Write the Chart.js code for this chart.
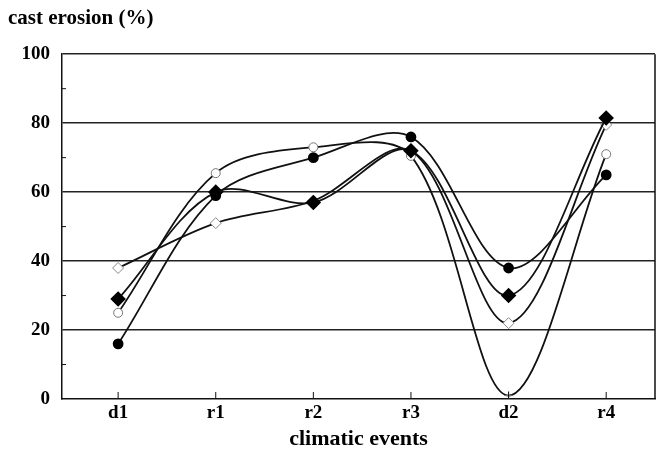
<!DOCTYPE html>
<html>
<head>
<meta charset="utf-8">
<script src="https://cdn.jsdelivr.net/npm/chart.js@4"></script>
<style>
  body { margin: 0; background: #fff; }
  #wrap { width: 667px; height: 455px; }
</style>
</head>
<body>
<div id="wrap"><canvas id="chart" width="667" height="455"></canvas></div>
<script>
const events = ["d1", "r1", "r2", "r3", "d2", "r4"];
const filledCircle = [16, 59, 70, 76, 38, 65];
const filledDiamond = [29, 60, 57, 72, 30, 81.5];
const openDiamond = [38, 51, 57.5, 72, 22, 79.5];
const openCircle = [25, 65.5, 73, 70.5, 1, 71];
const yTicks = [0, 20, 40, 60, 80, 100];

const serif = "'Liberation Serif', 'Times New Roman', serif";

function toPoints(values) {
  return values.map((v, i) => ({ x: i, y: v }));
}

// frame on the right plus small inward tick marks
const framePlugin = {
  id: "frame",
  afterDraw(chart) {
    const { ctx, chartArea, scales } = chart;
    ctx.save();
    ctx.strokeStyle = "#111";
    ctx.lineWidth = 1.5;
    ctx.beginPath();
    ctx.moveTo(chartArea.right, chartArea.top);
    ctx.lineTo(chartArea.right, chartArea.bottom);
    ctx.stroke();
    ctx.lineWidth = 1;
    events.forEach((_, i) => {
      const x = scales.x.getPixelForValue(i);
      ctx.beginPath();
      ctx.moveTo(x, chartArea.bottom);
      ctx.lineTo(x, chartArea.bottom - 7);
      ctx.stroke();
    });
    [10, 30, 50, 70, 90].forEach(v => {
      const y = scales.y.getPixelForValue(v);
      ctx.beginPath();
      ctx.moveTo(chartArea.left, y);
      ctx.lineTo(chartArea.left + 4, y);
      ctx.stroke();
    });
    ctx.restore();
  }
};

const lineBase = {
  borderColor: "#111",
  borderWidth: 1.8,
  tension: 0.33,
  fill: false
};

new Chart(document.getElementById("chart"), {
  type: "line",
  data: {
    datasets: [
      { ...lineBase, label: "A", data: toPoints(filledCircle), pointStyle: "circle", pointRadius: 4.5, pointBackgroundColor: "#000", pointBorderColor: "#000" },
      { ...lineBase, label: "B", data: toPoints(filledDiamond), pointStyle: "rectRot", pointRadius: 6.5, pointBackgroundColor: "#000", pointBorderColor: "#000" },
      { ...lineBase, label: "C", data: toPoints(openDiamond), pointStyle: "rectRot", pointRadius: 5.5, pointBackgroundColor: "#fff", pointBorderColor: "#888", pointBorderWidth: 1 },
      { ...lineBase, label: "D", data: toPoints(openCircle), pointStyle: ["circle", "circle", "circle", "circle", "cross", "circle"], pointRadius: 4.5, pointBackgroundColor: "#fff", pointBorderColor: "#777", pointBorderWidth: 1 }
    ]
  },
  options: {
    responsive: false,
    animation: false,
    layout: { padding: { left: 8, right: 12, top: 0, bottom: 5 } },
    plugins: {
      legend: { display: false },
      tooltip: { enabled: false },
      title: {
        display: true,
        text: "cast erosion (%)",
        align: "start",
        color: "#000",
        font: { family: serif, size: 21, weight: "bold" },
        padding: { top: 6, bottom: 23 }
      }
    },
    scales: {
      x: {
        type: "linear",
        min: -0.575,
        max: 5.5,
        afterBuildTicks: scale => {
          scale.ticks = events.map((_, i) => ({ value: i }));
        },
        grid: { display: false, drawTicks: false },
        border: { display: true, color: "#111", width: 1.5 },
        ticks: {
          color: "#000",
          padding: 5,
          autoSkip: false,
          maxRotation: 0,
          font: { family: serif, size: 19, weight: "bold", lineHeight: 1 },
          callback: value => events[value]
        },
        title: {
          display: true,
          text: "climatic events",
          color: "#000",
          font: { family: serif, size: 22, weight: "bold", lineHeight: 1 },
          padding: { top: 0, bottom: 0 }
        }
      },
      y: {
        min: 0,
        max: 100,
        afterBuildTicks: scale => {
          scale.ticks = yTicks.map(v => ({ value: v }));
        },
        afterFit: scale => {
          scale.width = 54;
        },
        grid: {
          drawTicks: false,
          lineWidth: 1.5,
          color: ctx => (ctx.tick && ctx.tick.value > 0 ? "#222" : "rgba(0,0,0,0)")
        },
        border: { display: true, color: "#111", width: 1.5 },
        ticks: {
          color: "#000",
          padding: 12,
          font: { family: serif, size: 19, weight: "bold" }
        }
      }
    }
  },
  plugins: [framePlugin]
});
</script>
</body>
</html>
